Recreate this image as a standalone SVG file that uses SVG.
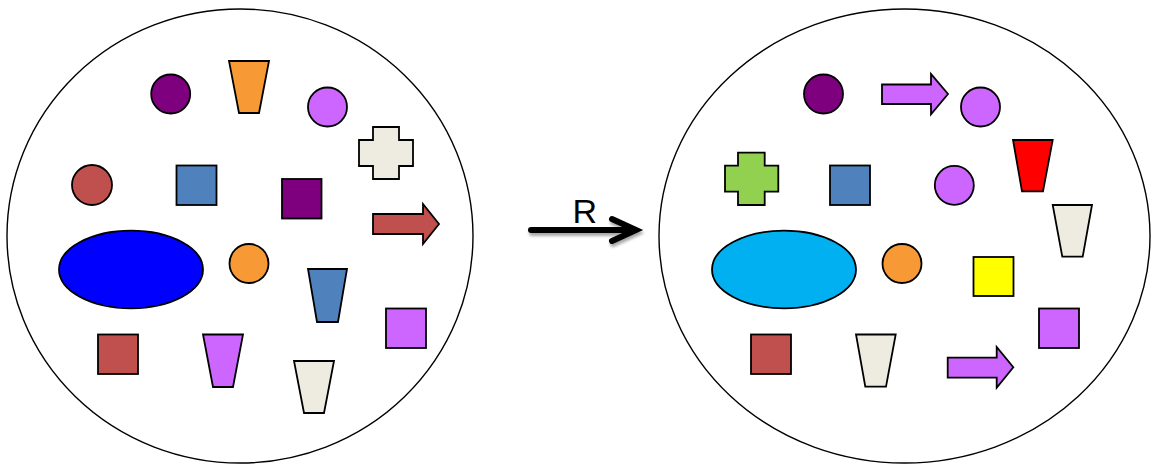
<svg xmlns="http://www.w3.org/2000/svg" width="1154" height="465" viewBox="0 0 1154 465">
  <style>
    .set { fill: #ffffff; stroke: #000000; stroke-width: 1.4; }
    .sh { stroke: #000000; stroke-width: 1.8; stroke-linejoin: miter; }
    .purple { fill: #7F007F; }
    .orange { fill: #F79A36; }
    .violet { fill: #CC66FF; }
    .cream { fill: #EEECE1; }
    .brown { fill: #C0504D; }
    .steel { fill: #4F81BD; }
    .blue { fill: #0000FF; }
    .cyan { fill: #00B0F0; }
    .green { fill: #92D050; }
    .red { fill: #FF0000; }
    .yellow { fill: #FFFF00; }
    .lbl { font-family: "Liberation Sans", Arial, sans-serif; font-size: 34px; fill: #000000; }
  </style>
  <defs>
    <filter id="soft" x="-10%" y="-30%" width="130%" height="180%">
      <feGaussianBlur in="SourceAlpha" stdDeviation="1.5"/>
      <feOffset dx="1" dy="3" result="b"/>
      <feComponentTransfer><feFuncA type="linear" slope="0.35"/></feComponentTransfer>
      <feMerge><feMergeNode/><feMergeNode in="SourceGraphic"/></feMerge>
    </filter>
  </defs>
  <rect width="1154" height="465" fill="#ffffff"/>

  <!-- left set -->
  <g id="set-left">
    <ellipse class="set" cx="240" cy="236" rx="233" ry="227"/>
    <circle class="sh purple" cx="170.7" cy="94" r="19.5"/>
    <polygon class="sh orange" points="229,61 269,61 259,113 239,113"/>
    <circle class="sh violet" cx="327.5" cy="107" r="19.5"/>
    <polygon class="sh cream" points="373,127 399,127 399,140 413,140 413,166 399,166 399,179 373,179 373,166 359,166 359,140 373,140"/>
    <circle class="sh brown" cx="92" cy="185" r="20"/>
    <rect class="sh steel" x="176.5" y="165.5" width="40" height="39.5"/>
    <rect class="sh purple" x="282" y="179" width="39.5" height="39.5"/>
    <polygon class="sh brown" points="373,214 423,214 423,204 439,224 423,244 423,234 373,234"/>
    <ellipse class="sh blue" cx="131" cy="269.5" rx="72" ry="38.8"/>
    <circle class="sh orange" cx="249" cy="263.5" r="19.5"/>
    <polygon class="sh steel" points="308,269 347,269 338,322 317,322"/>
    <rect class="sh violet" x="386" y="308.5" width="40" height="39.5"/>
    <rect class="sh brown" x="98" y="334.5" width="40" height="39.5"/>
    <polygon class="sh violet" points="203,334.5 243,334.5 233,387 213,387"/>
    <polygon class="sh cream" points="294,361 334,361 324,413 304,413"/>
  </g>

  <!-- transformation arrow -->
  <g id="connectors">
    <g filter="url(#soft)">
      <path d="M531,230 L634,230" fill="none" stroke="#000000" stroke-width="6" stroke-linecap="round"/>
      <path d="M612,219 L636,230 L612,241" fill="none" stroke="#000000" stroke-width="6" stroke-linecap="round" stroke-linejoin="miter"/>
    </g>
    <text class="lbl" x="572.5" y="223">R</text>
  </g>

  <!-- right set -->
  <g id="set-right">
    <ellipse class="set" cx="904.5" cy="236" rx="245.5" ry="227"/>
    <circle class="sh purple" cx="823.5" cy="94" r="19.5"/>
    <polygon class="sh violet" points="882,84.5 931,84.5 931,74 948,94 931,114.3 931,104 882,104"/>
    <circle class="sh violet" cx="980.5" cy="107" r="19.5"/>
    <polygon class="sh red" points="1013,140 1052.7,140 1043,191.3 1022,191.3"/>
    <polygon class="sh green" points="738,152.7 764.7,152.7 764.7,165.7 778.3,165.7 778.3,191.7 764.7,191.7 764.7,205 738,205 738,191.7 725,191.7 725,165.7 738,165.7"/>
    <rect class="sh steel" x="830" y="165.5" width="40" height="39.5"/>
    <circle class="sh violet" cx="954.3" cy="185.3" r="19.5"/>
    <polygon class="sh cream" points="1052.7,205 1092,205 1082.7,256.7 1062.3,256.7"/>
    <ellipse class="sh cyan" cx="784" cy="269.5" rx="72" ry="38.8"/>
    <circle class="sh orange" cx="902" cy="263.5" r="19.5"/>
    <rect class="sh yellow" x="973.5" y="257" width="40" height="39"/>
    <rect class="sh violet" x="1039" y="308.5" width="40" height="39.5"/>
    <rect class="sh brown" x="751" y="334.5" width="40" height="39.5"/>
    <polygon class="sh cream" points="856,334.5 895.7,334.5 886,386.7 865.3,386.7"/>
    <polygon class="sh violet" points="947.7,357.7 996.7,357.7 996.7,347 1013.3,367.3 996.7,387.7 996.7,377.7 947.7,377.7"/>
  </g>
</svg>
